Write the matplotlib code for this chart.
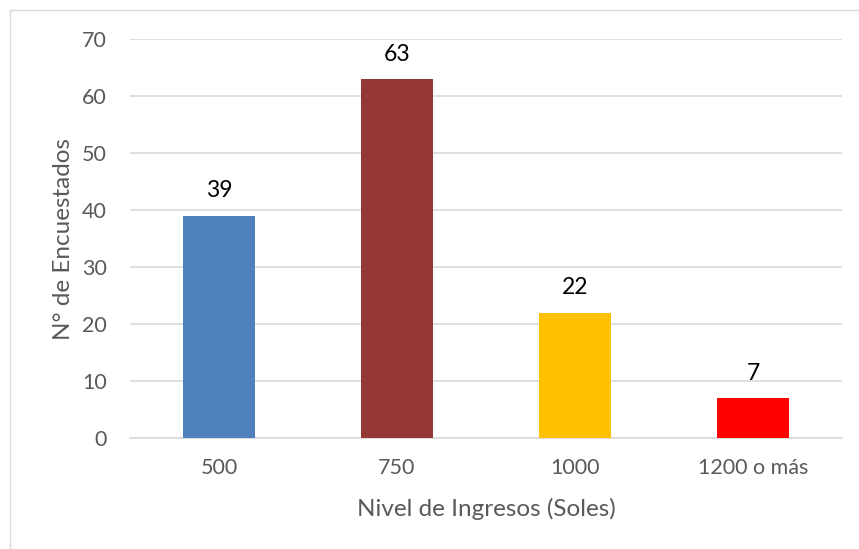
import numpy as np
import matplotlib.pyplot as plt
from matplotlib.patches import Rectangle

categorias = ["500", "750", "1000", "1200 o más"]
encuestados = [39, 63, 22, 7]
colores = ["#4F81BD", "#953735", "#FFC000", "#FF0000"]

plt.rcParams['font.family'] = ['Lato', 'DejaVu Sans']

fig = plt.figure(figsize=(8.59, 5.49), dpi=100)
ax = fig.add_axes([130/859, 1-438/549, 712/859, 399/549])

x = np.arange(len(categorias))
barras = ax.bar(x, encuestados, width=0.405, color=colores, zorder=3)
for xi, v in zip(x, encuestados):
    ax.text(xi, v + 2.5, str(v), ha="center", va="bottom", fontsize=16.5, color="black")

ax.set_xlim(-0.5, len(categorias) - 0.5)
ax.set_ylim(0, 70)
ax.set_yticks(range(0, 71, 10))
ax.set_xticks(x)
ax.set_xticklabels(categorias)
ax.yaxis.grid(True, color="#D9D9D9", linewidth=1.2, zorder=0)
ax.tick_params(axis="both", length=0, labelsize=15.5, labelcolor="#595959")
ax.tick_params(axis="y", pad=16.5)
ax.tick_params(axis="x", pad=14.5)
for s in ["top", "right", "left"]:
    ax.spines[s].set_visible(False)
ax.spines["bottom"].set_color("#D9D9D9")
ax.spines["bottom"].set_linewidth(1.2)

ax.set_xlabel("Nivel de Ingresos (Soles)", fontsize=17.5, color="#595959", labelpad=14)
ax.set_ylabel("N° de Encuestados", fontsize=17.5, color="#595959", labelpad=6)

fig.patches.append(Rectangle((10/859, -0.1), 1.2, 1 - 10/549 + 0.1,
                             transform=fig.transFigure, fill=False,
                             edgecolor="#D9D9D9", linewidth=1.0))

fig.savefig("out.png", dpi=100)
